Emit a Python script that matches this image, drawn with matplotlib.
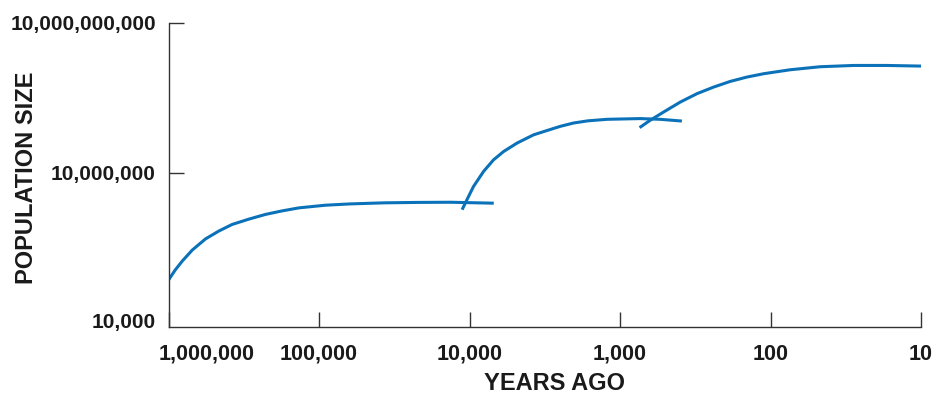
import matplotlib
matplotlib.use("Agg")
import matplotlib.pyplot as plt
import matplotlib.transforms as mtransforms
from matplotlib.ticker import FixedLocator, NullLocator

plt.rcParams["font.family"] = ["Liberation Sans", "DejaVu Sans"]
plt.rcParams["font.weight"] = "bold"

BLUE = "#0b72b9"
AXIS = "#333333"

# curve 1: early expansion (years ago, population)
years_1 = [1000000, 903000, 811000, 696000, 568000, 463000, 378000, 293000, 227000,
           176000, 136000, 90800, 62000, 37000, 22300, 13400, 6900]
pop_1 = [72600, 115000, 173000, 287000, 480000, 690000, 933000, 1190000, 1480000,
         1740000, 2000000, 2260000, 2400000, 2520000, 2570000, 2590000, 2480000]

# curve 2: agricultural revolution
years_2 = [11200, 10400, 9400, 8060, 6920, 5930, 4830, 3750, 3050, 2490, 2040,
           1640, 1220, 735, 541, 388]
pop_2 = [1840000, 2910000, 5360000, 10700000, 18200000, 26700000, 39300000, 57400000,
         70000000, 84800000, 98600000, 109000000, 117000000, 121000000, 117000000, 108000000]

# curve 3: industrial revolution
years_3 = [741, 630, 514, 398, 308, 239, 185, 144, 111, 74, 46.8, 28, 16.9, 10]
pop_3 = [79800000, 112000000, 163000000, 258000000, 380000000, 514000000, 668000000,
         813000000, 951000000, 1140000000, 1310000000, 1390000000, 1390000000, 1350000000]

x_ticks = [1000000, 100000, 10000, 1000, 100, 10]
x_labels = ["1,000,000", "100,000", "10,000", "1,000", "100", "10"]
y_ticks = [1e4, 1e7, 1e10]
y_labels = ["10,000", "10,000,000", "10,000,000,000"]

fig = plt.figure(figsize=(9.4, 3.94), dpi=100)
ax = fig.add_axes([168.5 / 940, 1 - 327 / 394, (921 - 168.5) / 940, (327 - 22.5) / 394])

for xs, ys in [(years_1, pop_1), (years_2, pop_2), (years_3, pop_3)]:
    ax.plot(xs, ys, color=BLUE, lw=2.2, solid_capstyle="butt", solid_joinstyle="round")

ax.set_xscale("log")
ax.set_yscale("log")
ax.set_xlim(1000000, 10)
ax.set_ylim(10 ** 3.924, 1e10)

ax.xaxis.set_major_locator(FixedLocator(x_ticks))
ax.xaxis.set_minor_locator(NullLocator())
ax.set_xticklabels(x_labels)
ax.yaxis.set_major_locator(FixedLocator(y_ticks))
ax.yaxis.set_minor_locator(NullLocator())
ax.set_yticklabels(y_labels)

for s in ["top", "right"]:
    ax.spines[s].set_visible(False)
for s in ["left", "bottom"]:
    ax.spines[s].set_color(AXIS)
    ax.spines[s].set_linewidth(1.0)

ax.tick_params(axis="x", direction="in", length=11, width=1, color=AXIS,
               labelsize=15.5, pad=12, labelcolor="#1a1a1a")
ax.tick_params(axis="y", direction="in", length=11, width=1, color=AXIS,
               labelsize=15, pad=9, labelcolor="#1a1a1a")
# no tick mark drawn at the bottom 10,000 label, and the label sits a little higher
bottom_tick = ax.yaxis.get_major_ticks()[0]
bottom_tick.tick1line.set_visible(False)
lbl = bottom_tick.label1
lbl.set_transform(lbl.get_transform() + mtransforms.ScaledTranslation(0, 3 / 100, fig.dpi_scale_trans))

# first x label sits to the right of its tick
first = ax.get_xticklabels()[0]
first.set_ha("left")
first.set_transform(first.get_transform() + mtransforms.ScaledTranslation(-10 / 100, 0, fig.dpi_scale_trans))

fig.text(27 / 940, 1 - 178 / 394, "POPULATION SIZE", rotation=90, ha="center", va="center",
         fontsize=17, fontweight="bold", color="#1a1a1a")
fig.text(554 / 940, 1 - 383 / 394, "YEARS AGO", ha="center", va="center",
         fontsize=17, fontweight="bold", color="#1a1a1a")

fig.savefig("out.png", dpi=100)
